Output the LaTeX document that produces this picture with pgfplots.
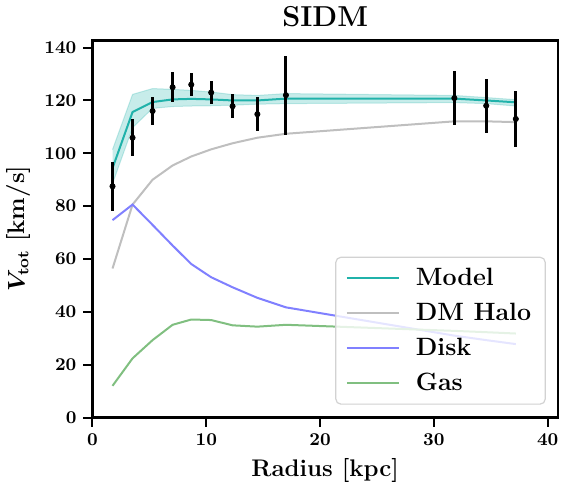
\documentclass[border=0pt]{standalone}
\usepackage{pgfplots}
\usepackage{pgfplotstable}
\pgfplotsset{compat=1.18}
\usepgfplotslibrary{fillbetween}

\definecolor{model}{RGB}{32,178,170}
\definecolor{halo}{RGB}{191,191,191}
\definecolor{disk}{RGB}{128,128,255}
\definecolor{gas}{RGB}{128,191,128}
\definecolor{legframe}{RGB}{210,210,210}

% radius, observed velocity and its error
\pgfplotstableread{
r      v      e
1.76   87.5   9.4
3.52   105.9  7.0
5.28   116.0  5.3
7.04   125.0  5.6
8.68   126.0  4.3
10.43  123.0  4.3
12.31  117.8  4.5
14.49  114.8  6.4
17.0   122.0  15.0
31.8   120.9  10.2
34.6   118.0  10.3
37.2   113.0  10.5
}\obs

% model and its components at the same radii
\pgfplotstableread{
r      model  lo     hi     halo   disk   gas
1.76   94.4   88.5   101.4  56.4   74.7   12.0
3.52   115.6  109.7  122.3  80.6   80.6   22.4
5.28   119.4  117.0  124.5  90.0   72.9   29.3
7.04   120.4  117.7  124.2  95.4   65.1   35.1
8.68   120.6  117.9  123.8  98.8   58.1   37.1
10.43  120.4  118.0  123.2  101.5  53.1   36.9
12.31  120.0  118.2  122.2  103.8  49.3   34.9
14.49  120.0  118.6  121.9  105.9  45.3   34.4
17.0   120.7  118.8  122.6  107.4  41.7   35.1
31.8   120.7  119.2  121.9  112.1  31.0   32.8
34.6   120.0  118.8  121.1  112.1  29.3   32.3
37.2   119.3  117.9  120.3  111.8  27.8   31.8
}\fit

\begin{document}
\begin{tikzpicture}
\begin{axis}[
  scale only axis,
  width=232.5pt, height=188.5pt,
  xmin=0, xmax=40.9, ymin=0, ymax=142.8,
  xtick={0,10,...,40}, ytick={0,20,...,140},
  tick align=outside, xtick pos=lower, ytick pos=left,
  major tick length=4.5pt,
  every tick/.style={black, line width=1pt},
  axis line style={line width=1.4pt},
  tick label style={font=\small\boldmath},
  title={\textbf{SIDM}},
  title style={font=\Large, yshift=-3pt},
  xlabel={\textbf{Radius [kpc]}},
  ylabel={$V_{\mathrm{tot}}$ \textbf{[km/s]}},
  label style={font=\large\boldmath},
  legend cell align=left,
  legend image code/.code={\draw[#1, line width=1pt] (0pt,0pt) -- (26pt,0pt);},
  legend style={at={(0.974,0.034)}, anchor=south east,
    font=\fontsize{12.5}{15}\selectfont\bfseries,
    draw=legframe, line width=0.6pt, rounded corners=2.5pt,
    fill=white, fill opacity=0.8, draw opacity=1, text opacity=1,
    row sep=3.2pt, inner xsep=5pt, inner ysep=3.5pt,
    /tikz/every odd column/.append style={column sep=6pt}},
]
\addlegendimage{model}\addlegendentry{Model}
\addlegendimage{halo}\addlegendentry{DM Halo}
\addlegendimage{disk}\addlegendentry{Disk}
\addlegendimage{gas}\addlegendentry{Gas}

\addplot[halo, line width=1pt, forget plot] table[x=r, y=halo] {\fit};
\addplot[disk, line width=1pt, forget plot] table[x=r, y=disk] {\fit};
\addplot[gas, line width=1pt, forget plot] table[x=r, y=gas] {\fit};

\addplot[name path=lo, draw=model, draw opacity=0.25, line width=0.5pt, forget plot] table[x=r, y=lo] {\fit};
\addplot[name path=hi, draw=model, draw opacity=0.25, line width=0.5pt, forget plot] table[x=r, y=hi] {\fit};
\addplot[model, fill opacity=0.25, forget plot] fill between[of=lo and hi];

\addplot[model, line width=1pt, forget plot] table[x=r, y=model] {\fit};

\addplot[only marks, mark=*, black, mark size=1.3pt, forget plot,
  error bars/.cd, y dir=both, y explicit, error mark=none,
  error bar style={line width=1.5pt, black}]
  table[x=r, y=v, y error=e] {\obs};
\end{axis}
\end{tikzpicture}
\end{document}
